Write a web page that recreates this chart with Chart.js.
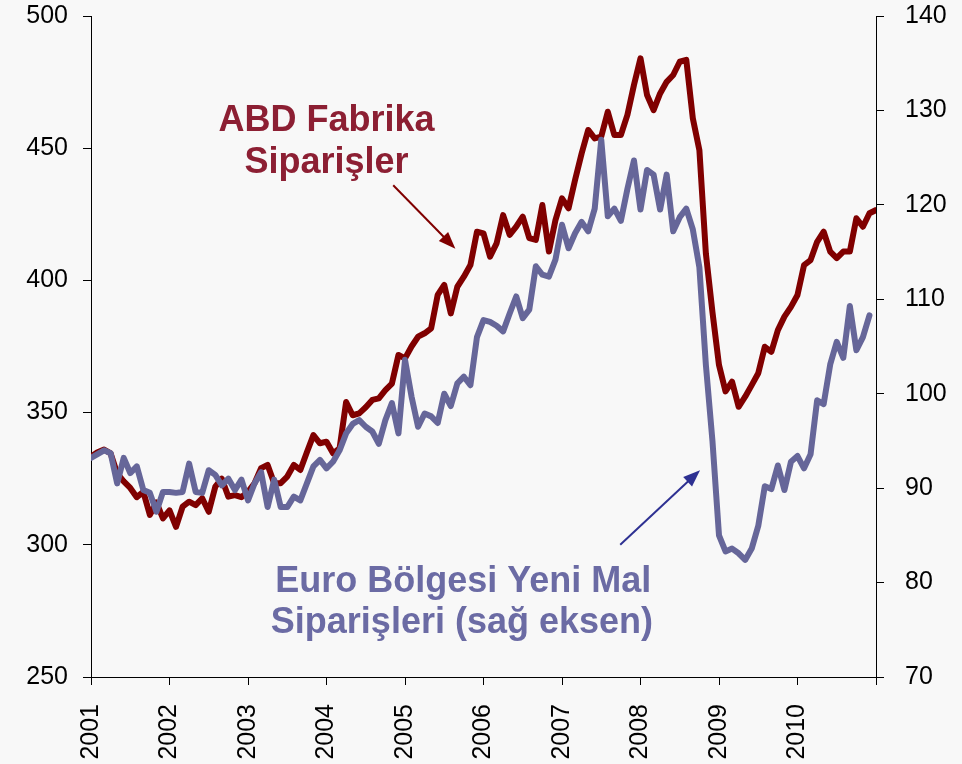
<!DOCTYPE html>
<html>
<head>
<meta charset="utf-8">
<script src="https://cdn.jsdelivr.net/npm/chart.js@4.4.1/dist/chart.umd.min.js"></script>
<style>
html, body { margin: 0; padding: 0; background: #f8f8f8; }
#wrap { width: 962px; height: 764px; }
</style>
</head>
<body>
<div id="wrap"><canvas id="chart" width="962" height="764"></canvas></div>
<script>
// monthly data, Jan 2001 onwards (index = months since Jan 2001)
var years = [2001, 2002, 2003, 2004, 2005, 2006, 2007, 2008, 2009, 2010];

// ABD fabrika siparisleri (left axis)
var usOrders = [
    333.3, 335, 336, 334.6, 327, 324, 321.5, 318, 320, 311.3,
    316, 310, 313, 306.8, 314.4, 316.3, 315, 317.6, 312.5, 322,
    325, 318.2, 318.8, 318, 320, 323.3, 329, 330.2, 323.3, 323.3,
    325.8, 330.2, 328.3, 335, 341.5, 338.4, 339, 334.6, 336.5, 354,
    349, 349.7, 352, 354.8, 355.4, 358.5, 361, 371.8, 370.5, 375,
    378.7, 380, 381.9, 394.5, 398.3, 387.5, 397.6, 401.4, 405.8, 418.4,
    417.8, 409, 414, 424.7, 417.2, 420.3, 424.1, 416, 415.3, 428.5,
    410.9, 422.8, 431, 427.3, 438, 448, 456.9, 453.7, 454.4, 463.8,
    455, 455, 462.6, 473.9, 484, 470.1, 464.4, 470.7, 475.1, 477.7,
    482.7, 483.4, 461.3, 449.3, 410, 388, 368, 358, 361.7, 352.2,
    356, 360.4, 364.9, 374.9, 373, 381.2, 386.3, 390, 394.5, 405.8,
    407.7, 414.6, 418.4, 410.9, 408.4, 410.9, 410.9, 423.5, 420.3, 425.4,
    426.6
];

// Euro bolgesi yeni mal siparisleri (right axis)
var euroOrders = [
    93.2, 93.6, 94, 93.7, 90.5, 93.2, 91.6, 92.3, 89.8, 89.5,
    87.5, 89.6, 89.6, 89.5, 89.6, 92.6, 89.6, 89.5, 91.9, 91.4,
    90.3, 91, 89.8, 90.9, 88.7, 90.5, 91.7, 88, 90.9, 88,
    88, 89.1, 88.7, 90.5, 92.3, 93, 92.1, 92.8, 94, 95.8,
    96.8, 97.2, 96.5, 96, 94.7, 97.2, 99, 95.8, 103.6, 99.7,
    96.5, 97.9, 97.6, 96.9, 100, 98.7, 101.1, 101.8, 100.9, 106,
    107.8, 107.6, 107.2, 106.6, 108.5, 110.3, 108, 108.9, 113.5, 112.6,
    112.4, 114.2, 117.9, 115.4, 117, 118.2, 117.2, 119.6, 126.9, 118.8,
    119.6, 118.3, 121.7, 124.7, 119.5, 123.7, 123.2, 119.5, 123.2, 117.2,
    118.7, 119.6, 117.4, 113.4, 103, 95, 85, 83.3, 83.6, 83.1,
    82.4, 83.6, 86, 90.2, 89.9, 92.4, 89.8, 92.8, 93.4, 92.1,
    93.6, 99.3, 98.9, 103.1, 105.5, 103.8, 109.3, 104.6, 106, 108.3
];

var usLabel = ['ABD Fabrika', 'Siparişler'];
var euroLabel = ['Euro Bölgesi Yeni Mal', 'Siparişleri (sağ eksen)'];

var FONT = '"Liberation Sans", Arial, sans-serif';

function toPoints(values) {
    return values.map(function(v, i) { return {x: i, y: v}; });
}

function arrow(ctx, x1, y1, x2, y2, color) {
    var ang = Math.atan2(y2 - y1, x2 - x1);
    var len = 17, half = 6.5;
    ctx.strokeStyle = color;
    ctx.fillStyle = color;
    ctx.lineWidth = 2;
    ctx.beginPath();
    ctx.moveTo(x1, y1);
    ctx.lineTo(x2 - Math.cos(ang) * len * 0.8, y2 - Math.sin(ang) * len * 0.8);
    ctx.stroke();
    ctx.beginPath();
    ctx.moveTo(x2, y2);
    ctx.lineTo(x2 - Math.cos(ang) * len - Math.sin(ang) * half, y2 - Math.sin(ang) * len + Math.cos(ang) * half);
    ctx.lineTo(x2 - Math.cos(ang) * len + Math.sin(ang) * half, y2 - Math.sin(ang) * len - Math.cos(ang) * half);
    ctx.closePath();
    ctx.fill();
}

// text labels and arrows, placed in data coordinates
var notes = {
    id: 'notes',
    afterDatasetsDraw: function(chart) {
        var ctx = chart.ctx;
        var x = chart.scales.x, yl = chart.scales.yLeft, yr = chart.scales.yRight;
        ctx.save();
        ctx.font = 'bold 36px ' + FONT;
        ctx.textAlign = 'center';
        ctx.textBaseline = 'alphabetic';

        ctx.fillStyle = '#8c1f33';
        ctx.fillText(usLabel[0], x.getPixelForValue(36), yl.getPixelForValue(456.5));
        ctx.fillText(usLabel[1], x.getPixelForValue(36), yl.getPixelForValue(440.6));
        arrow(ctx, x.getPixelForValue(46.2), yl.getPixelForValue(436),
                   x.getPixelForValue(55.7), yl.getPixelForValue(412), '#800000');

        ctx.fillStyle = '#6b6ba4';
        ctx.fillText(euroLabel[0], x.getPixelForValue(56.9), yr.getPixelForValue(79));
        ctx.fillText(euroLabel[1], x.getPixelForValue(56.7), yr.getPixelForValue(74.66));
        arrow(ctx, x.getPixelForValue(80.9), yr.getPixelForValue(84),
                   x.getPixelForValue(93.1), yr.getPixelForValue(91.9), '#2e3192');
        ctx.restore();
    }
};

var axisGrid = {
    drawOnChartArea: false,
    color: '#000',
    lineWidth: 1,
    tickLength: 8
};

// fixed axis sizes so the plot area sits where the original one does
function fixY(width) {
    return function(s) {
        s.width = width;
        s.paddingTop = 0;
        s.paddingBottom = 0;
    };
}

new Chart(document.getElementById('chart'), {
    type: 'line',
    data: {
        datasets: [{
            label: 'Euro',
            data: toPoints(euroOrders),
            yAxisID: 'yRight',
            borderColor: '#666699',
            borderWidth: 6,
            borderJoinStyle: 'round',
            borderCapStyle: 'round',
            pointRadius: 0,
            tension: 0,
            order: 0
        }, {
            label: 'ABD',
            data: toPoints(usOrders),
            yAxisID: 'yLeft',
            borderColor: '#800000',
            borderWidth: 6,
            borderJoinStyle: 'round',
            borderCapStyle: 'round',
            pointRadius: 0,
            tension: 0,
            order: 1
        }]
    },
    options: {
        responsive: false,
        animation: false,
        devicePixelRatio: 1,
        layout: { padding: { top: 16, left: 0, right: 0, bottom: 0 } },
        plugins: { legend: { display: false }, tooltip: { enabled: false } },
        scales: {
            x: {
                type: 'linear',
                min: 0,
                max: 120,
                grid: axisGrid,
                border: { color: '#000', width: 1 },
                ticks: {
                    stepSize: 12,
                    autoSkip: false,
                    minRotation: 90,
                    maxRotation: 90,
                    padding: 19,
                    color: '#000',
                    font: { family: FONT, size: 25 },
                    callback: function(v) {
                        var k = Math.round(v / 12);
                        return k < years.length ? String(years[k]) : '';
                    }
                },
                afterFit: function(s) { s.height = 87; s.paddingLeft = 0; s.paddingRight = 0; }
            },
            yLeft: {
                position: 'left',
                min: 250,
                max: 500,
                grid: axisGrid,
                border: { color: '#000', width: 1 },
                ticks: { stepSize: 50, padding: 15, color: '#000', font: { family: FONT, size: 25 } },
                afterFit: fixY(91)
            },
            yRight: {
                position: 'right',
                min: 70,
                max: 140,
                grid: axisGrid,
                border: { color: '#000', width: 1 },
                ticks: { stepSize: 10, padding: 21, color: '#000', font: { family: FONT, size: 25 } },
                afterFit: fixY(86)
            }
        }
    },
    plugins: [notes]
});
</script>
</body>
</html>
